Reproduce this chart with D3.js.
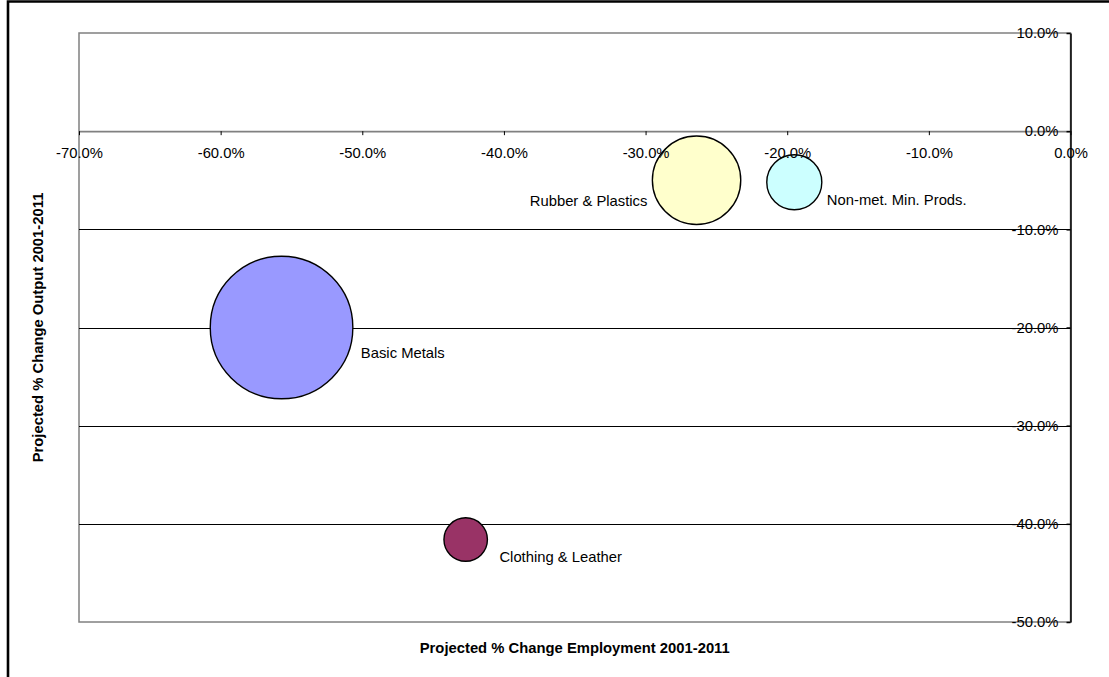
<!DOCTYPE html>
<html>
<head>
<meta charset="utf-8">
<script src="https://cdn.jsdelivr.net/npm/d3@7"></script>
<style>
  html, body { margin: 0; padding: 0; background: #fff; }
  svg { display: block; font-family: "Liberation Sans", Arial, sans-serif; }
</style>
</head>
<body>
<svg id="chart" width="1109" height="677"></svg>
<script>
// Sectors and their projected changes, 2001-2011
const sectors = ["Basic Metals", "Rubber & Plastics", "Non-met. Min. Prods.", "Clothing & Leather"];
const employmentChange = [-0.557, -0.264, -0.195, -0.427];
const outputChange = [-0.200, -0.050, -0.052, -0.416];
const bubbleSize = [100, 38.4, 14.9, 9.3];
const bubbleColors = ["#9999FF", "#FFFFCC", "#CCFFFF", "#993366"];

// Axis ticks
const xTicks = [-0.7, -0.6, -0.5, -0.4, -0.3, -0.2, -0.1, 0.0];
const yTicks = [0.1, 0.0, -0.1, -0.2, -0.3, -0.4, -0.5];

// Label placement beside each bubble
const labelLayout = [
  { side: "right", gap: 8, dy: 25 },
  { side: "left", gap: 5, dy: 21 },
  { side: "right", gap: 5, dy: 18 },
  { side: "right", gap: 12, dy: 17 }
];

const svg = d3.select("#chart");
const plot = { left: 79, right: 1070.5, top: 33, bottom: 622 };

const x = d3.scaleLinear().domain([-0.7, 0]).range([plot.left, plot.right]);
const y = d3.scaleLinear().domain([0.1, -0.5]).range([plot.top, plot.bottom]);
const r = d3.scaleSqrt().domain([0, d3.max(bubbleSize)]).range([0, 71.3]);

const pct = d3.formatLocale({ decimal: ".", thousands: ",", grouping: [3], currency: ["", ""], minus: "-" }).format(".1%");

// Outer frame
svg.append("path")
  .attr("d", "M8,700 L8,1.5 L1120,1.5")
  .attr("fill", "none").attr("stroke", "#000").attr("stroke-width", 2.6);

// Plot area
svg.append("rect")
  .attr("x", plot.left).attr("y", plot.top)
  .attr("width", plot.right - plot.left).attr("height", plot.bottom - plot.top)
  .attr("fill", "#fff").attr("stroke", "#808080").attr("stroke-width", 1.5);

// Horizontal gridlines
svg.append("g").selectAll("line")
  .data(yTicks.filter(d => d < 0 && d > -0.5))
  .join("line")
  .attr("x1", plot.left).attr("x2", plot.right)
  .attr("y1", d => Math.round(y(d)) + 0.5).attr("y2", d => Math.round(y(d)) + 0.5)
  .attr("stroke", "#000").attr("stroke-width", 1);

// Horizontal axis line at 0%
const xAxis = svg.append("g")
  .attr("transform", `translate(0,${y(0)})`)
  .call(d3.axisBottom(x).tickValues(xTicks).tickFormat(pct).tickSizeInner(4).tickSizeOuter(0).tickPadding(12));
xAxis.select(".domain").attr("stroke", "#808080").attr("stroke-width", 1.6);
xAxis.selectAll(".tick line").attr("stroke", "#000");

// Bubbles
const idx = d3.range(sectors.length);
svg.append("g").selectAll("circle")
  .data(idx)
  .join("circle")
  .attr("cx", i => x(employmentChange[i]))
  .attr("cy", i => y(outputChange[i]))
  .attr("r", i => r(bubbleSize[i]))
  .attr("fill", i => bubbleColors[i])
  .attr("stroke", "#000").attr("stroke-width", 1.4);

// Bubble labels
svg.append("g").selectAll("text")
  .data(idx)
  .join("text")
  .attr("x", i => {
    const cx = x(employmentChange[i]), rr = r(bubbleSize[i]), L = labelLayout[i];
    return L.side === "right" ? cx + rr + L.gap : cx - rr - L.gap;
  })
  .attr("y", i => y(outputChange[i]) + labelLayout[i].dy)
  .attr("dy", "0.35em")
  .attr("text-anchor", i => labelLayout[i].side === "right" ? "start" : "end")
  .attr("font-size", 14.8)
  .attr("fill", "#000")
  .text(i => sectors[i]);

// Tick labels of the horizontal axis sit above the bubbles
xAxis.raise();
xAxis.selectAll(".tick text").attr("font-size", 14.8).attr("fill", "#000")
  .attr("font-family", "'Liberation Sans', Arial, sans-serif");

// Vertical axis on the right edge
const yAxis = svg.append("g")
  .attr("transform", `translate(${plot.right},0)`)
  .call(d3.axisLeft(y).tickValues(yTicks).tickFormat(pct).tickSizeInner(4).tickSizeOuter(0).tickPadding(8));
yAxis.select(".domain").attr("stroke", "#000").attr("stroke-width", 1.5);
yAxis.selectAll(".tick line").attr("stroke", "#000").attr("stroke-width", 1.5);
yAxis.selectAll(".tick text").attr("font-size", 14.8).attr("fill", "#000")
  .attr("font-family", "'Liberation Sans', Arial, sans-serif");

// Axis titles
svg.append("text")
  .attr("x", (plot.left + plot.right) / 2).attr("y", 648)
  .attr("dy", "0.35em")
  .attr("text-anchor", "middle")
  .attr("font-size", 14.8).attr("font-weight", "bold")
  .text("Projected % Change Employment 2001-2011");

svg.append("text")
  .attr("transform", `translate(38,${(plot.top + plot.bottom) / 2}) rotate(-90)`)
  .attr("dy", "0.35em")
  .attr("text-anchor", "middle")
  .attr("font-size", 14.8).attr("font-weight", "bold")
  .text("Projected % Change Output 2001-2011");
</script>
</body>
</html>
